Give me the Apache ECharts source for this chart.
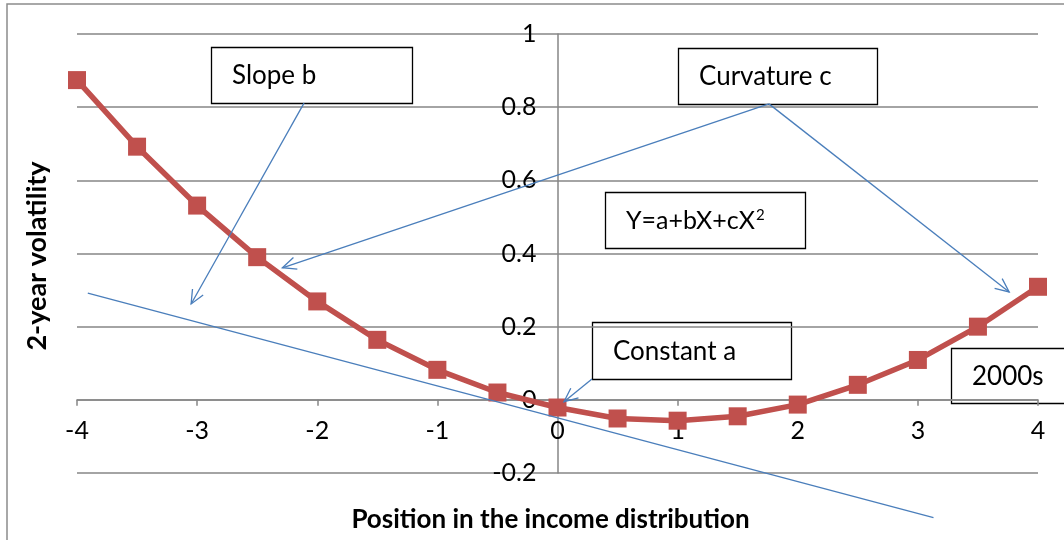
<!DOCTYPE html>
<html>
<head>
<meta charset="utf-8">
<script src="https://cdn.jsdelivr.net/npm/echarts@6/dist/echarts.min.js"></script>
<style>
  html, body { margin: 0; padding: 0; background: #fff; }
  #chart { width: 1064px; height: 540px; }
</style>
</head>
<body>
<div id="chart"></div>
<script>
// Position in the income distribution (x) and 2-year volatility (y)
const positions = [-4, -3.5, -3, -2.5, -2, -1.5, -1, -0.5, 0, 0.5, 1, 1.5, 2, 2.5, 3, 3.5, 4];
const volatility = [0.874, 0.692, 0.531, 0.390, 0.269, 0.164, 0.082, 0.020, -0.021, -0.051, -0.057, -0.045, -0.013, 0.041, 0.109, 0.200, 0.309];

// Straight line illustrating the slope term (endpoints in data units)
const slopeLineX = [-3.91, 3.13];
const slopeLineY = [0.292, -0.322];

// Callout arrows: start and tip, in data units
const arrowFromX = [-2.11, 1.76, 1.76, 0.287];
const arrowFromY = [0.811, 0.809, 0.809, 0.057];
const arrowToX = [-3.05, -2.29, 3.76, 0.054];
const arrowToY = [0.262, 0.361, 0.295, -0.005];

// Callout boxes
const boxLabels = ['Slope b', 'Curvature c', 'Constant a', '2000s'];

const FONT = 'Lato, "Liberation Sans", sans-serif';
const GRAY = '#868686';
const RED = '#C0504D';
const BLUE = '#4A7EBB';

// Plot area
const GRID = { left: 77, right: 26, top: 34, bottom: 67 };
const W = 1064, H = 540;
const X_MIN = -4, X_MAX = 4, Y_MIN = -0.2, Y_MAX = 1;
// Axes cross at the origin: shift each axis from its grid edge to zero
const plotW = W - GRID.left - GRID.right;
const plotH = H - GRID.top - GRID.bottom;
const yAxisShift = -plotW * (0 - X_MIN) / (X_MAX - X_MIN);
const xAxisShift = -plotH * (0 - Y_MIN) / (Y_MAX - Y_MIN);

const chart = echarts.init(document.getElementById('chart'));

function arrowItem(params, api) {
  const a = api.coord([api.value(0), api.value(1)]);
  const b = api.coord([api.value(2), api.value(3)]);
  const ang = Math.atan2(b[1] - a[1], b[0] - a[0]);
  const L = 15, spread = 0.42;
  const h1 = [b[0] - L * Math.cos(ang - spread), b[1] - L * Math.sin(ang - spread)];
  const h2 = [b[0] - L * Math.cos(ang + spread), b[1] - L * Math.sin(ang + spread)];
  return {
    type: 'group',
    children: [
      { type: 'line', shape: { x1: a[0], y1: a[1], x2: b[0], y2: b[1] }, style: { stroke: BLUE, lineWidth: 1.3 } },
      { type: 'polyline', shape: { points: [h1, b, h2] }, style: { stroke: BLUE, lineWidth: 1.3, fill: null } }
    ]
  };
}

function box(x, y, w, h, content) {
  return {
    type: 'group',
    z: 100,
    children: [
      { type: 'rect', shape: { x: x + 0.5, y: y + 0.5, width: w, height: h }, style: { fill: '#fff', stroke: '#000', lineWidth: 1.3 } },
      { type: 'text', x: x + 21, y: y + h / 2 + 1, style: content }
    ]
  };
}

function plain(text) {
  return { text: text, font: '26px ' + FONT, fill: '#000', verticalAlign: 'middle', align: 'left' };
}

chart.setOption({
  animation: false,
  grid: Object.assign({ containLabel: false, outerBoundsMode: 'none' }, GRID),
  xAxis: {
    type: 'value', min: X_MIN, max: X_MAX, interval: 1,
    offset: xAxisShift,
    axisLine: { onZero: false, lineStyle: { color: GRAY, width: 1.5 } },
    axisTick: { show: true, length: 6, lineStyle: { color: GRAY, width: 1.5 } },
    axisLabel: { color: '#000', fontFamily: FONT, fontSize: 25, margin: 19 },
    splitLine: { show: false },
    name: 'Position in the income distribution',
    nameLocation: 'middle', nameGap: 107,
    nameTextStyle: { color: '#000', fontFamily: FONT, fontSize: 26, fontWeight: 'bold', padding: [0, 14, 0, 0] }
  },
  yAxis: {
    type: 'value', min: Y_MIN, max: Y_MAX, interval: 0.2,
    offset: yAxisShift,
    axisLine: { onZero: false, lineStyle: { color: GRAY, width: 1.5 } },
    axisTick: { show: false },
    axisLabel: { color: '#000', fontFamily: FONT, fontSize: 25, margin: 21 },
    splitLine: { show: true, lineStyle: { color: GRAY, width: 1.5 } }
  },
  graphic: [
    { type: 'rect', z: 0, shape: { x: 7, y: 4, width: 1100, height: 600 }, style: { fill: null, stroke: '#8c8c8c', lineWidth: 1.5 }, silent: true },
    {
      type: 'text', x: 37, y: 256, rotation: Math.PI / 2, z: 10,
      style: { text: '2-year volatility', font: 'bold 27px ' + FONT, fill: '#000', align: 'center', verticalAlign: 'middle' }
    },
    box(211, 47, 201, 56, plain(boxLabels[0])),
    box(678, 48, 199, 56, plain(boxLabels[1])),
    box(605, 192, 200, 56, {
      text: '{m|Y=a+bX+cX}{s|2}',
      verticalAlign: 'middle', align: 'left',
      rich: {
        m: { font: '25px ' + FONT, fill: '#000' },
        s: { font: '15px ' + FONT, fill: '#000', verticalAlign: 'top', padding: [0, 0, 12, 1] }
      }
    }),
    box(592, 322, 199, 57, plain(boxLabels[2])),
    box(951, 348, 115, 55, plain(boxLabels[3]))
  ],
  series: [
    {
      type: 'line', z: 3,
      data: positions.map((x, i) => [x, volatility[i]]),
      symbol: 'rect', symbolSize: 18,
      lineStyle: { color: RED, width: 5.5 },
      itemStyle: { color: RED }
    },
    {
      type: 'line', z: 4, clip: false, silent: true,
      data: slopeLineX.map((x, i) => [x, slopeLineY[i]]),
      symbol: 'none',
      lineStyle: { color: BLUE, width: 1.3 }
    },
    {
      type: 'custom', z: 5, clip: false, silent: true,
      renderItem: arrowItem,
      data: arrowFromX.map((x, i) => [x, arrowFromY[i], arrowToX[i], arrowToY[i]])
    }
  ]
});
</script>
</body>
</html>
